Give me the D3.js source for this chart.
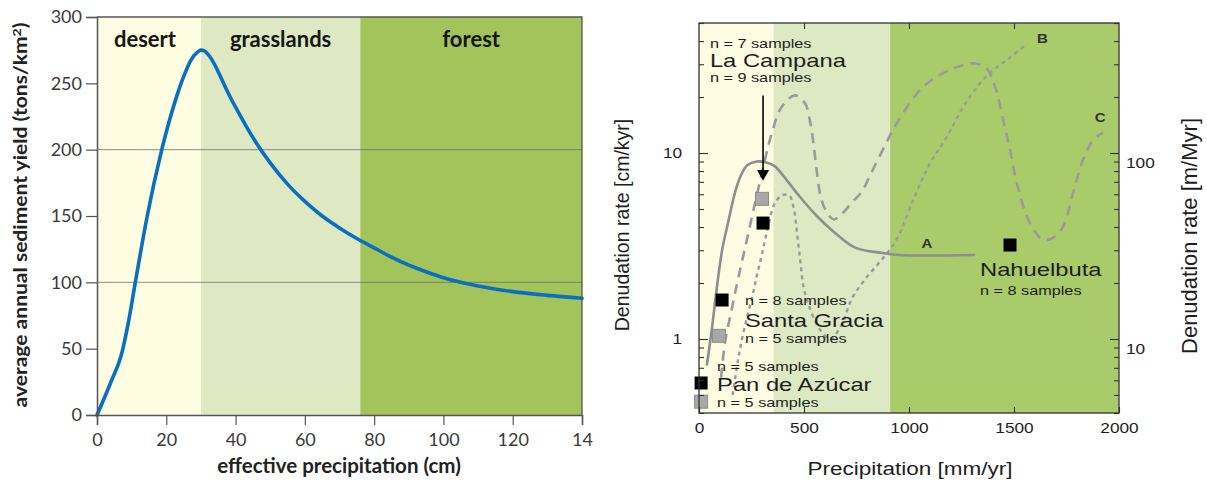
<!DOCTYPE html>
<html>
<head>
<meta charset="utf-8">
<script src="https://cdn.jsdelivr.net/npm/d3@7"></script>
<style>
body { margin: 0; background: #fff; }
</style>
</head>
<body>
<div class="container"></div>
<script>
// ---- left panel data: sediment yield vs effective precipitation ----
var zoneNames = ['desert', 'grasslands', 'forest'];
var leftZoneEdges = [0, 30, 76, 140];
var leftXTicks = [0, 20, 40, 60, 80, 100, 120, 140];
var leftXTickLabels = ['0', '20', '40', '60', '80', '100', '120', '14'];
var leftYTicks = [0, 50, 100, 150, 200, 250, 300];
var leftGrid = [100, 200];
var effPrecip = [0, 4.2, 7.1, 9, 11, 14.5, 18.7, 22.5, 25, 27, 29, 30, 31, 32, 34, 36, 38, 40, 43, 46, 50, 55, 60, 65, 70, 75, 80, 85, 90, 95, 100, 105, 110, 120, 130, 140];
var sedYield  = [0, 26, 46, 69, 99, 150, 200, 236, 255, 267, 273.5, 275, 274.5, 272, 264, 253, 242, 232, 218, 205, 190, 174, 161, 150, 141, 133, 126, 119, 113, 108, 103.5, 100, 97.2, 93, 90.2, 88];

// ---- right panel data: denudation rate vs precipitation ----
var rightZoneEdges = [0, 355, 910, 2000];
var rightXTicks = [0, 500, 1000, 1500, 2000];
var rightMajor = [1, 10];
var rightMinor = [0.4, 0.5, 0.6, 0.7, 0.8, 0.9, 2, 3, 4, 5, 6, 7, 8, 9, 20, 30, 40, 50];

var curveA_x = [37, 60, 80, 110, 140, 171, 200, 230, 275, 320, 360, 424, 481, 560, 638, 743, 876, 950, 1314];
var curveA_y = [0.72, 1.1, 1.7, 3.0, 4.3, 6.1, 7.6, 8.6, 9.0, 8.9, 8.5, 7.0, 5.8, 4.6, 3.8, 3.1, 2.9, 2.83, 2.83];

var curveB_x = [160, 179, 195, 219, 251, 275, 298, 322, 362, 400, 430, 452, 468, 483, 497, 520, 570, 625, 680, 727, 790, 870, 941, 1020, 1100, 1180, 1257, 1338, 1400, 1481, 1562];
var curveB_y = [0.5, 0.69, 0.88, 1.18, 1.64, 2.18, 2.8, 3.7, 5.4, 5.95, 5.9, 5.0, 3.6, 2.6, 1.93, 1.55, 1.15, 1.0, 1.2, 1.64, 2.09, 2.67, 3.42, 5.6, 8.8, 12.2, 17.6, 23.6, 27.8, 32.6, 38.7];

var curveC_x = [105, 124, 156, 186, 230, 290, 346, 394, 457, 505, 529, 545, 560, 576, 600, 640, 680, 727, 775, 820, 886, 941, 1068, 1211, 1314, 1370, 1410, 1449, 1481, 1513, 1576, 1638, 1686, 1733, 1781, 1829, 1876, 1924];
var curveC_y = [0.62, 0.96, 1.45, 2.1, 3.5, 7.0, 12.7, 17.7, 20.4, 18.5, 14.7, 11.3, 8.1, 6.1, 5.0, 4.4, 4.7, 5.4, 6.2, 7.8, 11, 14.4, 22.7, 28.5, 30.3, 28.5, 22.7, 15.0, 10.4, 6.9, 4.2, 3.42, 3.5, 4.0, 6.1, 9.2, 11.7, 12.9];

var blackPrecip = [305, 110, 10, 1481];
var blackRate   = [4.2, 1.62, 0.58, 3.2];
var greyPrecip  = [300, 95, 10];
var greyRate    = [5.67, 1.04, 0.46];

var W = 1207, H = 484;
var SX = 1.25; // right panel text is horizontally stretched

var svg = d3.select('.container').append('svg')
    .attr('width', W).attr('height', H);

var drawLeft = function () {
    var xL = d3.scaleLinear().domain([0, 140]).range([97, 582]);
    var yL = d3.scaleLinear().domain([0, 300]).range([415, 17]);
    var g = svg.append('g').attr('font-family', 'Lato, "Open Sans", sans-serif');
    var zoneColors = ['#fefde1', '#dee9c4', '#a2c45a'];

    g.selectAll('.zoneL').data(zoneNames).enter().append('rect')
        .attr('x', function (d, i) { return xL(leftZoneEdges[i]); })
        .attr('width', function (d, i) { return xL(leftZoneEdges[i + 1]) - xL(leftZoneEdges[i]); })
        .attr('y', yL(300)).attr('height', yL(0) - yL(300))
        .attr('fill', function (d, i) { return zoneColors[i]; });

    g.selectAll('.gridL').data(leftGrid).enter().append('line')
        .attr('x1', xL(0)).attr('x2', xL(140))
        .attr('y1', function (d) { return yL(d); }).attr('y2', function (d) { return yL(d); })
        .attr('stroke', '#6b6b6b').attr('stroke-opacity', 0.75).attr('stroke-width', 1);

    g.selectAll('.zoneLabel').data(zoneNames).enter().append('text')
        .attr('x', function (d, i) { return (xL(leftZoneEdges[i]) + xL(leftZoneEdges[i + 1])) / 2 - (i === 0 ? 4 : 0); })
        .attr('y', 47)
        .attr('text-anchor', 'middle').attr('font-size', 22).attr('font-weight', 'bold')
        .attr('fill', '#161616')
        .text(function (d) { return d; });

    var line = d3.line()
        .x(function (d, i) { return xL(effPrecip[i]); })
        .y(function (d) { return yL(d); })
        .curve(d3.curveMonotoneX);
    g.append('path').datum(sedYield).attr('d', line)
        .attr('fill', 'none').attr('stroke', '#0a6fbf').attr('stroke-width', 3.6)
        .attr('stroke-linecap', 'round');

    // frame top/right
    g.append('path')
        .attr('d', 'M' + xL(0) + ',' + yL(300) + 'H' + xL(140) + 'V' + yL(0))
        .attr('fill', 'none').attr('stroke', '#555').attr('stroke-width', 1.3);

    var yAxis = g.append('g').attr('transform', 'translate(' + xL(0) + ',0)')
        .call(d3.axisLeft(yL).tickValues(leftYTicks).tickSize(11).tickPadding(4));
    var xAxis = g.append('g').attr('transform', 'translate(0,' + yL(0) + ')')
        .call(d3.axisBottom(xL).tickValues(leftXTicks).tickSize(10).tickPadding(8)
            .tickFormat(function (d, i) { return leftXTickLabels[i]; }));
    [yAxis, xAxis].forEach(function (a) {
        a.select('.domain').attr('stroke', '#555').attr('stroke-width', 1.5);
        a.selectAll('.tick line').attr('stroke', '#555').attr('stroke-width', 1.2);
        a.selectAll('.tick text').attr('font-size', 18).attr('fill', '#3a3a3a')
            .attr('font-family', 'Lato, "Open Sans", sans-serif');
    });

    g.append('text')
        .attr('transform', 'translate(27,' + 215 + ') rotate(-90)')
        .attr('text-anchor', 'middle').attr('font-size', 18).attr('font-weight', 'bold')
        .attr('fill', '#222')
        .attr('textLength', 385).attr('lengthAdjust', 'spacingAndGlyphs')
        .html('average annual sediment yield (tons/km<tspan dy="-6" font-size="12">2</tspan><tspan dy="6">)</tspan>');

    g.append('text')
        .attr('x', 339).attr('y', 473)
        .attr('text-anchor', 'middle').attr('font-size', 20.5).attr('font-weight', 'bold')
        .attr('fill', '#222')
        .text('effective precipitation (cm)');
};

var stretched = function (g, x, y, str, size, weight, anchor, color) {
    return g.append('text')
        .attr('transform', 'translate(' + x + ',' + y + ') scale(' + SX + ',1)')
        .attr('dy', '0.35em')
        .attr('text-anchor', anchor || 'start')
        .attr('font-size', size)
        .attr('font-weight', weight || 'normal')
        .attr('fill', color || '#1e1e1e')
        .text(str);
};

var drawRight = function () {
    var xR = d3.scaleLinear().domain([0, 2000]).range([699, 1119]);
    var yR = d3.scaleLog().domain([0.4, 50]).range([413, 23]);
    var yR2 = d3.scaleLog().domain([4, 500]).range([413, 23]);
    var g = svg.append('g').attr('font-family', '"Liberation Sans", Arial, sans-serif');
    var zoneColors = ['#fefde3', '#dde9c3', '#a9cb69'];

    g.selectAll('.zoneR').data(zoneNames).enter().append('rect')
        .attr('x', function (d, i) { return xR(rightZoneEdges[i]); })
        .attr('width', function (d, i) { return xR(rightZoneEdges[i + 1]) - xR(rightZoneEdges[i]); })
        .attr('y', yR(50)).attr('height', yR(0.4) - yR(50))
        .attr('fill', function (d, i) { return zoneColors[i]; });

    var mkLine = function (xs) {
        return d3.line()
            .x(function (d, i) { return xR(xs[i]); })
            .y(function (d) { return yR(d); })
            .curve(d3.curveCatmullRom.alpha(0.5));
    };
    g.append('path').datum(curveC_y).attr('d', mkLine(curveC_x))
        .attr('fill', 'none').attr('stroke', '#9a9a9e').attr('stroke-width', 2.6)
        .attr('stroke-dasharray', '10,7');
    g.append('path').datum(curveB_y).attr('d', mkLine(curveB_x))
        .attr('fill', 'none').attr('stroke', '#9a9a9e').attr('stroke-width', 2.4)
        .attr('stroke-dasharray', '4,4');
    g.append('path').datum(curveA_y).attr('d', mkLine(curveA_x))
        .attr('fill', 'none').attr('stroke', '#8e8e8e').attr('stroke-width', 2.6);

    var S = 13;
    g.selectAll('.greySq').data(greyRate).enter().append('rect')
        .attr('x', function (d, i) { return xR(greyPrecip[i]) - S / 2; })
        .attr('y', function (d) { return yR(d) - S / 2; })
        .attr('width', S).attr('height', S)
        .attr('fill', '#a8a8a8').attr('stroke', '#8c8c8c').attr('stroke-width', 1);
    g.selectAll('.blackSq').data(blackRate).enter().append('rect')
        .attr('x', function (d, i) { return xR(blackPrecip[i]) - S / 2; })
        .attr('y', function (d) { return yR(d) - S / 2; })
        .attr('width', S).attr('height', S)
        .attr('fill', '#000');

    // arrow to La Campana
    var ax = xR(305);
    g.append('line').attr('x1', ax).attr('x2', ax).attr('y1', yR(20.4)).attr('y2', yR(7.9))
        .attr('stroke', '#000').attr('stroke-width', 1.6);
    g.append('path')
        .attr('d', 'M' + (ax - 6) + ',' + (yR(7.9) - 2) + 'L' + (ax + 6) + ',' + (yR(7.9) - 2) + 'L' + ax + ',' + yR(7.1) + 'Z')
        .attr('fill', '#000');

    // site labels
    var labels = [
        ['n = 7 samples', 52, 38.7, 13], ['La Campana', 52, 31.4, 19], ['n = 9 samples', 52, 25.5, 13],
        ['n = 8 samples', 219, 1.62, 13], ['Santa Gracia', 219, 1.26, 19], ['n = 5 samples', 219, 1.01, 13],
        ['n = 5 samples', 86, 0.71, 13], ['Pan de Azúcar', 86, 0.57, 19], ['n = 5 samples', 86, 0.455, 13],
        ['Nahuelbuta', 1338, 2.37, 19], ['n = 8 samples', 1338, 1.83, 13]
    ];
    labels.forEach(function (l) { stretched(g, xR(l[1]), yR(l[2]), l[0], l[3]); });
    stretched(g, xR(1085), yR(3.25), 'A', 12, 'bold', 'middle', '#333');
    stretched(g, xR(1635), yR(41), 'B', 12, 'bold', 'middle', '#333');
    stretched(g, xR(1910), yR(15.4), 'C', 12, 'bold', 'middle', '#333');

    // frame
    g.append('rect').attr('x', xR(0)).attr('y', yR(50))
        .attr('width', xR(2000) - xR(0)).attr('height', yR(0.4) - yR(50))
        .attr('fill', 'none').attr('stroke', '#333').attr('stroke-width', 1.3);

    var styleAxis = function (a) {
        a.select('.domain').remove();
        a.selectAll('.tick line').attr('stroke', '#333').attr('stroke-width', 1.1);
    };
    var major = g.append('g').attr('transform', 'translate(' + xR(0) + ',0)')
        .call(d3.axisLeft(yR).tickValues(rightMajor).tickSize(-9).tickPadding(12).tickFormat(d3.format('d')));
    var minor = g.append('g').attr('transform', 'translate(' + xR(0) + ',0)')
        .call(d3.axisLeft(yR).tickValues(rightMinor).tickSize(-5).tickFormat(''));
    var major2 = g.append('g').attr('transform', 'translate(' + xR(2000) + ',0)')
        .call(d3.axisRight(yR2).tickValues([10, 100]).tickSize(-9).tickPadding(7).tickFormat(d3.format('d')));
    var minor2 = g.append('g').attr('transform', 'translate(' + xR(2000) + ',0)')
        .call(d3.axisRight(yR2).tickValues(rightMinor.map(function (d) { return d * 10; })).tickSize(-5).tickFormat(''));
    var bottom = g.append('g').attr('transform', 'translate(0,' + yR(0.4) + ')')
        .call(d3.axisBottom(xR).tickValues(rightXTicks).tickSize(-6).tickPadding(9).tickFormat(d3.format('d')));
    var top = g.append('g').attr('transform', 'translate(0,' + yR(50) + ')')
        .call(d3.axisTop(xR).tickValues([500, 1000, 1500]).tickSize(-6).tickFormat(''));
    [major, minor, major2, minor2, bottom, top].forEach(styleAxis);
    [major, major2, bottom].forEach(function (a) {
        a.selectAll('.tick text').attr('font-size', 15).attr('fill', '#1e1e1e')
            .attr('font-family', '"Liberation Sans", Arial, sans-serif');
    });
    major.selectAll('.tick text').attr('transform', 'translate(-3,0) scale(1.15,1)');
    major2.selectAll('.tick text').attr('transform', 'translate(7,10) scale(1.15,1)').attr('x', 0);
    bottom.selectAll('.tick text').attr('transform', 'scale(1.15,1)');

    g.append('text')
        .attr('transform', 'translate(629,225) rotate(-90)')
        .attr('text-anchor', 'middle').attr('font-size', 19.5).attr('fill', '#1e1e1e')
        .text('Denudation rate [cm/kyr]');
    g.append('text')
        .attr('transform', 'translate(1197,236) rotate(-90)')
        .attr('text-anchor', 'middle').attr('font-size', 22).attr('fill', '#1e1e1e')
        .text('Denudation rate [m/Myr]');
    stretched(g, 910, 469, 'Precipitation [mm/yr]', 18, 'normal', 'middle');
};

window.onload = function () {
    drawLeft();
    drawRight();
};
</script>
</body>
</html>
